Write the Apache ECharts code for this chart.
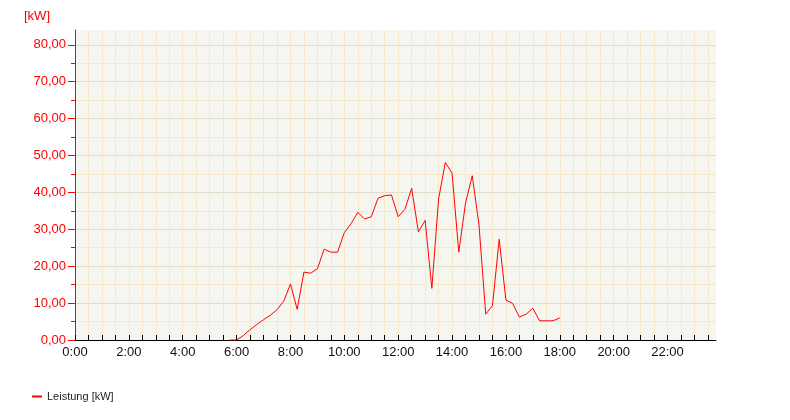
<!DOCTYPE html>
<html>
<head>
<meta charset="utf-8">
<script src="https://cdn.jsdelivr.net/npm/echarts@6/dist/echarts.min.js"></script>
<style>
html,body{margin:0;padding:0;background:#fff;}
#chart{width:790px;height:420px;}
</style>
</head>
<body>
<div id="chart"></div>
<script>
// Data (15-minute readings)
const times = ['5:45','6:00','6:15','6:30','6:45','7:00','7:15','7:30','7:45','8:00','8:15','8:30','8:45','9:00','9:15','9:30','9:45','10:00','10:15','10:30','10:45','11:00','11:15','11:30','11:45','12:00','12:15','12:30','12:45','13:00','13:15','13:30','13:45','14:00','14:15','14:30','14:45','15:00','15:15','15:30','15:45','16:00','16:15','16:30','16:45','17:00','17:15','17:30','17:45','18:00'];
const leistung = [0,0,1.2,2.8,4.2,5.5,6.7,8.2,10.5,15.2,8.3,18.4,18.1,19.3,24.6,23.8,23.8,29.1,31.5,34.6,32.8,33.4,38.4,39.1,39.3,33.4,35.4,41.1,29.3,32.4,14.0,38.2,48.1,45.2,23.8,37.1,44.5,31.2,7.0,9.3,27.3,10.8,9.9,6.2,7.0,8.6,5.2,5.2,5.2,6.0];
const xLabels = ['0:00','2:00','4:00','6:00','8:00','10:00','12:00','14:00','16:00','18:00','20:00','22:00'];
const yMajorTicks = [0,10,20,30,40,50,60,70,80];
const yMinorTicks = [5,15,25,35,45,55,65,75];
const seriesName = 'Leistung [kW]';
const unitLabel = '[kW]';

const toMin = s => { const p = s.split(':'); return (+p[0]) * 60 + (+p[1]); };
const xLabelMinutes = xLabels.map(toMin);
const xTickMinutes = [];
for (let m = 0; m <= 1410; m += 30) { xTickMinutes.push(m); }
const xMax = 1428;
const yMax = 84;

const RED = '#ff0000';
const MAJOR_GRID = '#dedecb';
const MINOR_GRID = '#f6e8c9';

const chart = echarts.init(document.getElementById('chart'), null, {renderer: 'canvas'});
chart.setOption({
  animation: false,
  backgroundColor: '#ffffff',
  textStyle: {fontFamily: 'Liberation Sans, Arial, sans-serif'},
  grid: {left: 75, right: 74, top: 30, bottom: 80, show: true, backgroundColor: '#f6f6f0', borderWidth: 0, containLabel: false},
  legend: {
    left: 27, bottom: 13, icon: 'rect', itemWidth: 10, itemHeight: 2, itemGap: 10,
    textStyle: {fontSize: 11, color: '#222'},
    data: [seriesName]
  },
  xAxis: [
    {
      type: 'value', min: 0, max: xMax, interval: 30,
      axisLine: {show: true, lineStyle: {color: '#000', width: 1}},
      axisTick: {show: true, inside: true, length: 5, customValues: xTickMinutes, lineStyle: {color: '#000'}},
      axisLabel: {customValues: xLabelMinutes, margin: 6, fontSize: 13, color: '#111',
        formatter: v => xLabels[xLabelMinutes.indexOf(v)] || ''},
      splitLine: {show: true, lineStyle: {color: MINOR_GRID, width: 1}}
    }
  ],
  yAxis: [
    {
      type: 'value', position: 'left', min: 0, max: yMax, interval: 5,
      name: unitLabel, nameLocation: 'end', nameGap: 7,
      nameTextStyle: {color: RED, fontSize: 13, align: 'right', padding: [0, 25, 0, 0]},
      axisLine: {show: true, lineStyle: {color: RED, width: 1}},
      axisTick: {show: true, length: 4, customValues: yMinorTicks, lineStyle: {color: RED}},
      axisLabel: {show: false},
      splitLine: {show: true, lineStyle: {color: MINOR_GRID, width: 1}}
    },
    {
      type: 'value', position: 'left', offset: 0, min: 0, max: yMax, interval: 10,
      axisLine: {show: false},
      axisTick: {show: true, length: 7, customValues: yMajorTicks, lineStyle: {color: RED}},
      axisLabel: {customValues: yMajorTicks, margin: 9, fontSize: 13, color: RED,
        formatter: v => v.toFixed(2).replace('.', ',')},
      splitLine: {show: true, lineStyle: {color: MAJOR_GRID, width: 1}}
    }
  ],
  series: [{
    name: seriesName, type: 'line', yAxisIndex: 1, showSymbol: false, symbol: 'none',
    lineStyle: {color: RED, width: 1}, itemStyle: {color: RED},
    data: times.map((t, i) => [toMin(t), leistung[i]]),
    z: 5
  }]
});
</script>
</body>
</html>
